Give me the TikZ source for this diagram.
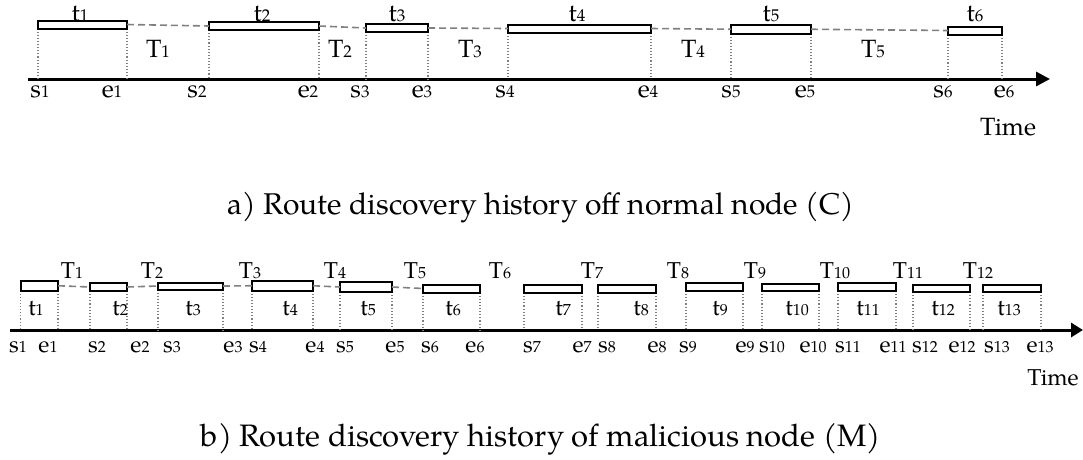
\documentclass[tikz,border=0pt]{standalone}
\usepackage{fontspec}
\setmainfont{texgyrepagella-regular.otf}
\usetikzlibrary{arrows.meta}
\definecolor{dgray}{RGB}{128,128,128}
\newcommand\subsz{13}
\newcommand\sub[2]{#1{\fontsize{\subsz}{\subsz}\selectfont #2}}
\tikzset{
  tbox/.style={draw=black, line width=2pt, fill=white},
  gapline/.style={draw=dgray, line width=1.6pt, dash pattern=on 7pt off 4pt},
  tickline/.style={draw=dgray, line width=1.1pt, dotted},
  axisline/.style={draw=black, line width=3pt},
  lbl/.style={anchor=base, inner sep=0pt},
}
% \tb{name}{x1}{x2}{ytop}{ybot}{axisy}
\newcommand\tb[6]{%
  \draw[tickline] (#2,#5) -- (#2,#6);
  \draw[tickline] (#3,#5) -- (#3,#6);
  \coordinate (#1-l) at (#2,{(#4+#5)/2});
  \coordinate (#1-r) at (#3,{(#4+#5)/2});
  \draw[tbox] (#2,#4) rectangle (#3,#5);
}
\begin{document}
\begin{tikzpicture}[x=1pt,y=-1pt]
\useasboundingbox (0,0) rectangle (1083,459);
% ---------- (a) ----------
\draw[axisline,-{Triangle[length=14pt,width=14pt]}] (28,79) -- (1050,79);
\tb{a1}{38}{127}{20.5}{28.5}{79}
\tb{a2}{209}{319}{22}{30}{79}
\tb{a3}{366}{428}{24}{32}{79}
\tb{a4}{508}{651}{24.5}{32.5}{79}
\tb{a5}{731}{811}{25}{33.5}{79}
\tb{a6}{948}{1002}{26.5}{34.5}{79}
\draw[gapline] (a1-r) -- (a2-l);
\draw[gapline] (a2-r) -- (a3-l);
\draw[gapline] (a3-r) -- (a4-l);
\draw[gapline] (a4-r) -- (a5-l);
\draw[gapline] (a5-r) -- (a6-l);
\begin{scope}[every node/.style={lbl, font=\fontsize{25}{25}\selectfont}]
\renewcommand\subsz{17}
\foreach \n/\x in {1/80,2/262,3/397,4/577,5/771,6/975}
  \node at (\x,21) {\sub{t}{\n}};
\foreach \n/\x in {1/158,2/340,3/470,4/693,5/873}
  \node at (\x,57) {\sub{T}{\n}};
\foreach \n/\x in {1/40,2/197,3/360,4/505,5/731,6/943}
  \node at (\x,97) {\sub{s}{\n}};
\foreach \n/\x in {1/112,2/308,3/422,4/648,5/805,6/1004}
  \node at (\x,97) {\sub{e}{\n}};
\node (timea) at (1008,135) {Time};
\end{scope}
\node[lbl, font=\fontsize{30}{30}\selectfont] (capa) at (541,214) {a) Route discovery history off normal node (C)};
% ---------- (b) ----------
\draw[axisline,-{Triangle[length=12pt,width=14pt]}] (10,330) -- (1083,330);
\tb{b1}{20.5}{58}{281}{290.5}{330}
\tb{b2}{90}{127}{283}{291}{330}
\tb{b3}{158}{223}{282.5}{289.5}{330}
\tb{b4}{252}{313}{281}{290.5}{330}
\tb{b5}{340}{392}{282}{292}{330}
\tb{b6}{423}{480}{284.5}{292.5}{330}
\tb{b7}{524}{582}{285}{293}{330}
\tb{b8}{598}{656}{285}{293}{330}
\tb{b9}{686}{743}{283}{291}{330}
\tb{b10}{762}{819}{283.5}{291}{330}
\tb{b11}{838}{896}{283}{291}{330}
\tb{b12}{913}{970}{284.5}{292}{330}
\tb{b13}{983}{1041}{284.5}{292}{330}
\draw[gapline] (b1-r) -- (b2-l);
\draw[gapline] (b2-r) -- (b3-l);
\draw[gapline] (b3-r) -- (b4-l);
\draw[gapline] (b4-r) -- (b5-l);
\draw[gapline] (b5-r) -- (b6-l);
\begin{scope}[every node/.style={lbl, font=\fontsize{23}{23}\selectfont}]
\renewcommand\subsz{16}
\foreach \n/\x in {1/36,2/120,3/193,4/290,5/368,6/453,7/563,8/641,9/720,10/797,11/868,12/943,13/1009}
  \node at (\x,315) {\sub{t}{\n}};
\foreach \n/\x in {1/72,2/152,3/250,4/335,5/415,6/500,7/592,8/678,9/755,10/835,11/908,12/978}
  \node at (\x,278) {\sub{T}{\n}};
\foreach \n/\x in {1/18,2/97,3/172,4/258,5/345,6/430,7/532,8/607,9/688,10/772,11/848,12/925,13/997}
  \node at (\x,352) {\sub{s}{\n}};
\foreach \n/\x in {1/48,2/140,3/233,4/315,5/395,6/475,7/582,8/657,9/745,10/813,11/893,12/962,13/1040}
  \node at (\x,352) {\sub{e}{\n}};
\node (timeb) at (1053,385) {Time};
\end{scope}
\node[lbl, font=\fontsize{31}{31}\selectfont] (capb) at (541,446) {b) Route discovery history of malicious node (M)};
\end{tikzpicture}
\end{document}
